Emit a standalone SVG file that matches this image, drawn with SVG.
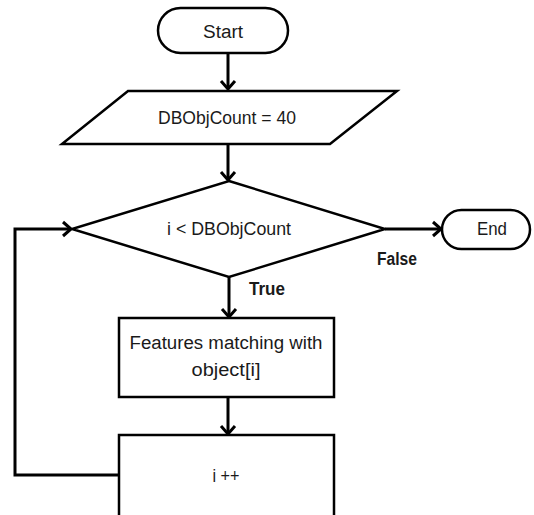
<svg xmlns="http://www.w3.org/2000/svg" width="534" height="515" viewBox="0 0 534 515">
<defs>
<style>
.shape{fill:#fff;stroke:#000;stroke-width:2.5;}
.conn{fill:none;stroke:#000;stroke-width:3;}
text{font-family:"Liberation Sans",Arial,sans-serif;font-size:18px;fill:#1a1a1a;text-anchor:middle;}
.lbl{font-weight:bold;}
</style>
<marker id="arr" markerUnits="userSpaceOnUse" markerWidth="20" markerHeight="20" viewBox="-10 -10 20 20" refX="0" refY="0" orient="auto" overflow="visible">
<path d="M-8,-7 L0,0 L-8,7" fill="none" stroke="#000" stroke-width="3" stroke-linejoin="miter"/>
</marker>
</defs>
<rect width="534" height="515" fill="#fff"/>
<g id="connectors">
<line class="conn" x1="228" y1="53" x2="228" y2="89" marker-end="url(#arr)"/>
<line class="conn" x1="228" y1="144" x2="228" y2="180" marker-end="url(#arr)"/>
<line class="conn" x1="229" y1="277" x2="229" y2="317" marker-end="url(#arr)"/>
<line class="conn" x1="228" y1="397" x2="228" y2="434" marker-end="url(#arr)"/>
<line class="conn" x1="385" y1="229" x2="441" y2="229" marker-end="url(#arr)"/>
<polyline class="conn" points="119,475 15,475 15,229 71,229" marker-end="url(#arr)"/>
</g>
<g id="start">
<rect class="shape" x="158" y="8" width="130" height="45" rx="22.5"/>
<text x="223" y="38" textLength="40" lengthAdjust="spacingAndGlyphs">Start</text>
</g>
<g id="init">
<polygon class="shape" points="128,91 397,91 330,144 62,144"/>
<text x="227" y="124" textLength="138" lengthAdjust="spacingAndGlyphs">DBObjCount = 40</text>
</g>
<g id="cond">
<polygon class="shape" points="229,181 385,229 229,277 72,229"/>
<text x="229" y="235" textLength="124" lengthAdjust="spacingAndGlyphs">i &lt; DBObjCount</text>
</g>
<g id="end">
<rect class="shape" x="442" y="210" width="88" height="39" rx="19.5"/>
<text x="492" y="235" textLength="30" lengthAdjust="spacingAndGlyphs">End</text>
</g>
<g id="labels">
<text class="lbl" x="397" y="265" textLength="40" lengthAdjust="spacingAndGlyphs">False</text>
<text class="lbl" x="267" y="295" textLength="36" lengthAdjust="spacingAndGlyphs">True</text>
</g>
<g id="match">
<rect class="shape" x="119" y="318" width="215" height="79"/>
<text x="226" y="349" textLength="193" lengthAdjust="spacingAndGlyphs">Features matching with</text>
<text x="226" y="376" textLength="69" lengthAdjust="spacingAndGlyphs">object[i]</text>
</g>
<g id="incr">
<rect class="shape" x="119" y="435" width="215" height="90"/>
<text x="226" y="482" textLength="27" lengthAdjust="spacingAndGlyphs">i ++</text>
</g>
</svg>
